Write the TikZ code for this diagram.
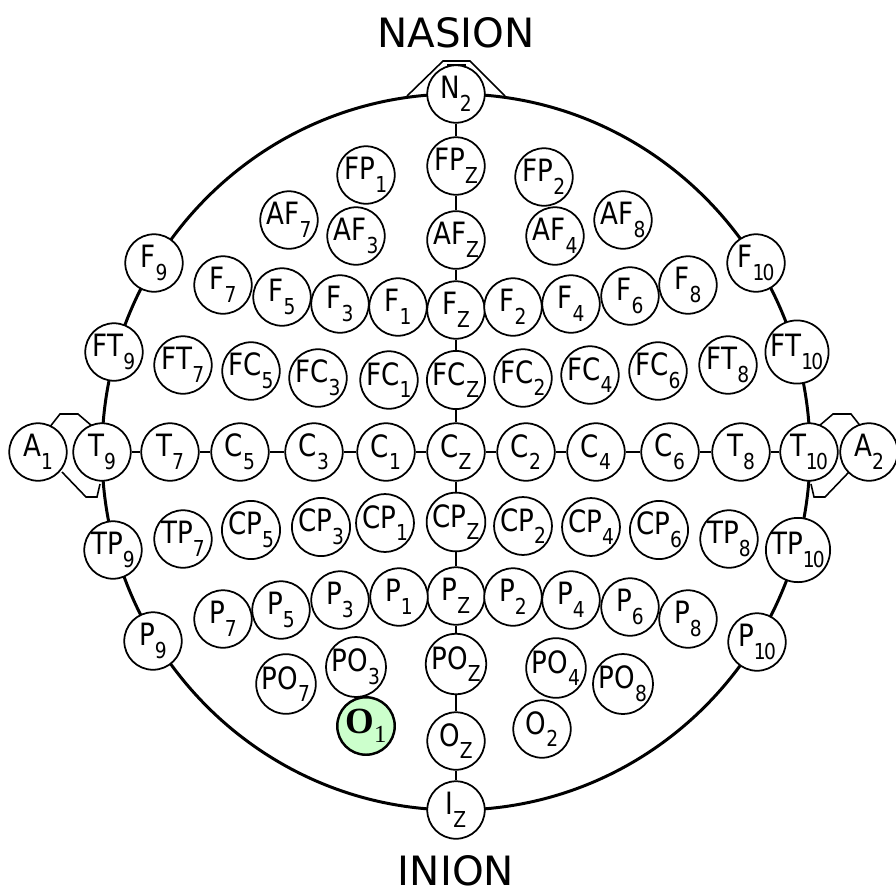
\documentclass[tikz,border=0pt]{standalone}
\usepackage{fontspec}
\newfontfamily\elfont[FakeStretch=0.85]{DejaVu Sans}
\newfontfamily\lmfont{DejaVu Sans}
\newfontfamily\serfont{Liberation Serif}
\definecolor{cgreen}{HTML}{CCFFCC}
\newcommand{\idx}[1]{\raisebox{-0.75ex}{\fontsize{12.5}{12.5}\selectfont #1}}
\tikzset{
  every picture/.style={line width=0.9pt},
  el/.style={circle, draw, fill=white, line width=1pt, minimum size=1.15cm, inner sep=0pt, font=\elfont\fontsize{17.5}{17.5}\selectfont},
  wire/.style={draw, line width=0.9pt},
  scalp/.style={draw, line width=1.7pt},
  lm/.style={font=\lmfont\fontsize{23}{23}\selectfont},
}

\begin{document}
\begin{tikzpicture}[x=0.02cm, y=-0.02cm]
  \useasboundingbox (0,0) rectangle (896,893);
  % ---- head, nose and ears ----
  \draw[scalp] (456,452) ellipse [x radius=354, y radius=358];
  \draw[wire] (407,96) -- (443,61) -- (470,61) -- (505,96);
  \draw[wire] (447,65) -- (466,65);
  \draw[wire] (49,428) -- (60,414) -- (78,414) -- (92,426);
  \draw[wire] (62,472) -- (86,497) -- (97,497) -- (100,484);
  \draw[wire] (862,428) -- (851,414) -- (833,414) -- (819,426);
  \draw[wire] (849,472) -- (825,497) -- (814,497) -- (811,484);
  % ---- midline ----
  \foreach \n/\y/\a/\b in {N2/94/N/2, FPz/166/FP/Z, AFz/240/AF/Z, Fz/310/F/Z, FCz/380/FC/Z,
      Cz/452/C/Z, CPz/522/CP/Z, Pz/596/P/Z, POz/664/PO/Z, Oz/741/O/Z, Iz/810/I/Z}
    \node[el] (\n) at (456,\y) {\a\idx{\b}};
  % ---- frontal ----
  \foreach \n/\x/\y/\a/\b in {FP1/366/175/FP/1, FP2/544/177/FP/2,
      AF7/289/220/AF/7, AF3/356/236/AF/3, AF4/555/236/AF/4, AF8/623/220/AF/8,
      F9/154/263/F/9, F7/223/285/F/7, F5/282/297/F/5, F3/340/304/F/3, F1/398/307/F/1,
      F2/513/307/F/2, F4/571/304/F/4, F6/630/296/F/6, F8/688/285/F/8, F10/756/263/F/{1\kern-1pt 0}}
    \node[el] (\n) at (\x,\y) {\a\idx{\b}};
  \foreach \n/\x/\y/\a/\b in {FT9/114/352/FT/9, FT7/183/365/FT/7, FC5/251/371/FC/5,
      FC3/318/378/FC/3, FC1/389/380/FC/1, FC2/523/378/FC/2, FC4/590/375/FC/4,
      FC6/658/371/FC/6, FT8/728/365/FT/8, FT10/797/352/FT/{1\kern-1pt 0}}
    \node[el] (\n) at (\x,\y) {\a\idx{\b}};
  % ---- central ----
  \foreach \n/\x/\a/\b in {A1/38/A/1, T9/102/T/9, T7/170/T/7, C5/240/C/5, C3/314/C/3,
      C1/386/C/1, C2/526/C/2, C4/596/C/4, C6/670/C/6, T8/741/T/8, T10/809/T/{1\kern-1pt 0}, A2/869/A/2}
    \node[el] (\n) at (\x,452) {\a\idx{\b}};
  % ---- parietal / occipital ----
  \foreach \n/\x/\y/\a/\b in {TP9/113/550/TP/9, TP7/183/539/TP/7, CP5/251/530/CP/5,
      CP3/321/527/CP/3, CP1/385/523/CP/1, CP2/523/526/CP/2, CP4/591/527/CP/4,
      CP6/659/530/CP/6, TP8/729/539/TP/8, TP10/798/550/TP/{1\kern-1pt 0}}
    \node[el] (\n) at (\x,\y) {\a\idx{\b}};
  \foreach \n/\x/\y/\a/\b in {P9/153/641/P/9, P7/223/619/P/7, P5/281/610/P/5, P3/340/600/P/3,
      P1/399/597/P/1, P2/513/597/P/2, P4/571/600/P/4, P6/630/607/P/6, P8/688/619/P/8,
      P10/757/642/P/{1\kern-1pt 0}, PO7/286/684/PO/7, PO3/356/667/PO/3, PO4/556/668/PO/4,
      PO8/623/684/PO/8, O2/542/729/O/2}
    \node[el] (\n) at (\x,\y) {\a\idx{\b}};
  \node[el, fill=cgreen, line width=1.4pt, font=\serfont\fontsize{21}{21}\selectfont] (O1) at (366,726) {\textbf{O}\raisebox{-0.5ex}{\fontsize{14}{14}\selectfont 1}};
  % ---- connectors ----
  \foreach \a/\b in {N2/FPz, FPz/AFz, AFz/Fz, Fz/FCz, FCz/Cz, Cz/CPz, CPz/Pz, Pz/POz, POz/Oz, Oz/Iz,
      T9/T7, T7/C5, C5/C3, C3/C1, C1/Cz, Cz/C2, C2/C4, C4/C6, C6/T8, T8/T10}
    \draw[wire] (\a) -- (\b);
  \node[lm] (nasion) at (456,33) {NASION};
  \node[lm] (inion) at (456,871) {INION};
\end{tikzpicture}
\end{document}
